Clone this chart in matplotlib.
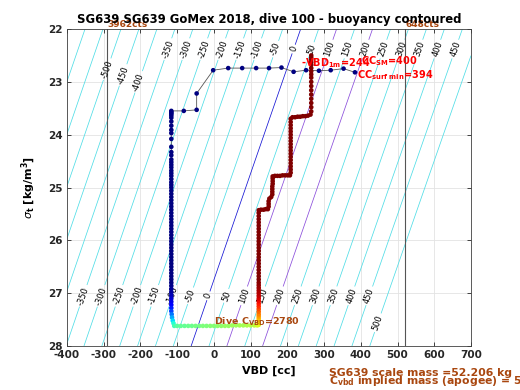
import numpy as np
import matplotlib.pyplot as plt

plt.rcParams['font.family'] = 'DejaVu Sans'
plt.rcParams['mathtext.fontset'] = 'dejavusans'
plt.rcParams['axes.unicode_minus'] = False

# glider numbers
mass_g = 52206.0       # scale mass [g]
vol0_cc = 50846.0      # displaced volume at VBD = 0 [cc]
vbd_min_cc = -290      # 3962 cts
vbd_max_cc = 521       # 648 cts
cc_sm = 400
cc_surf_min = 394
vbd_1m = 244
dive_c_vbd = 2780

# surface bleed (VBD cc, sigma_t, colour value 0..1 on jet)
surf_vbd = [384, 353, 318, 286, 251, 217, 184, 150, 115, 77, 39, -2, -47, -47, -82, -116]
surf_sig = [22.82, 22.75, 22.78, 22.79, 22.78, 22.81, 22.73, 22.74, 22.74, 22.74, 22.74, 22.78,
            23.22, 23.53, 23.55, 23.55]
surf_c = [0.0, 0.0, 0.0, 0.0, 0.0, 0.0, 0.0, 0.0, 0.0, 0.0, 0.0, 0.0, 0.0, 0.0, 0.0, 0.0]

# descent
desc_vbd = [-116, -116, -116, -116, -116, -116, -116, -116, -116, -116, -116, -116,
            -116, -116, -116, -116, -116, -116, -116, -116, -116, -116, -116, -116,
            -116, -116, -116, -116, -116, -116, -116, -116, -116, -116, -116, -116,
            -116, -116, -116, -116, -116, -116, -116, -116, -116, -116, -116, -116,
            -116, -116, -116, -116, -116, -116, -116, -116, -116, -116, -116, -116,
            -116, -116, -116, -115, -114, -112, -110, -108]
desc_sig = [23.57, 23.59, 23.61, 23.64, 23.68, 23.75, 23.83, 23.91, 23.97, 24.08, 24.23, 24.33,
            24.39, 24.47, 24.52, 24.57, 24.62, 24.68, 24.73, 24.78, 24.84, 24.90, 24.95, 25.00,
            25.06, 25.12, 25.18, 25.24, 25.30, 25.36, 25.42, 25.48, 25.54, 25.60, 25.66, 25.72,
            25.78, 25.84, 25.90, 25.96, 26.02, 26.08, 26.14, 26.20, 26.26, 26.32, 26.38, 26.44,
            26.50, 26.56, 26.62, 26.68, 26.74, 26.80, 26.86, 26.92, 26.98, 27.04, 27.10, 27.16,
            27.22, 27.28, 27.34, 27.40, 27.46, 27.52, 27.57, 27.62]
desc_c = [0.0, 0.0, 0.0, 0.0, 0.0, 0.0, 0.0, 0.0, 0.0, 0.0, 0.0, 0.0,
          0.0, 0.0, 0.0, 0.0, 0.0, 0.0, 0.0, 0.0, 0.0, 0.0, 0.0, 0.0,
          0.0, 0.0, 0.0, 0.0, 0.0, 0.0, 0.0, 0.0, 0.0, 0.0, 0.0, 0.0,
          0.0, 0.0, 0.0, 0.0, 0.0, 0.0, 0.0, 0.0, 0.0, 0.0, 0.0, 0.0,
          0.0, 0.0, 0.0, 0.0, 0.0, 0.0, 0.01, 0.02, 0.03, 0.05, 0.07, 0.09,
          0.12, 0.15, 0.19, 0.24, 0.29, 0.34, 0.39, 0.43]

# apogee pump
apo_vbd = [-100, -90, -80, -70, -60, -50, -40, -30, -20, -10, 0, 10,
           20, 30, 40, 50, 60, 70, 80, 90, 100, 110, 118]
apo_sig = [27.62, 27.62, 27.62, 27.62, 27.62, 27.62, 27.62, 27.62, 27.62, 27.62, 27.62, 27.62,
           27.62, 27.62, 27.62, 27.61, 27.61, 27.61, 27.61, 27.61, 27.61, 27.61, 27.61]
apo_c = [0.46, 0.47, 0.47, 0.48, 0.48, 0.49, 0.49, 0.50, 0.50, 0.51, 0.51, 0.52,
         0.52, 0.53, 0.53, 0.54, 0.54, 0.55, 0.55, 0.56, 0.57, 0.58, 0.60]

# climb
climb_vbd = [122, 122, 122, 122, 122, 122, 122, 122, 122, 122, 122, 122, 122, 122,
             122, 122, 122, 122, 122, 122, 122, 122, 122, 122, 122, 122, 122, 122,
             122, 122, 122, 122, 122, 122, 122, 122, 122, 122, 122, 122, 122,
             128, 135, 141, 147,
             149, 149, 149, 151, 156, 159, 159, 159, 159, 160, 160, 160, 160,
             166, 173, 180, 187, 194, 201, 207,
             209, 209, 209, 209, 209, 209, 209, 209, 209, 209, 209, 209, 209, 209, 209, 209,
             209, 209,
             214, 221, 228, 235, 242, 249, 256, 263,
             265, 265, 265, 265, 265, 265, 265, 265, 265, 265, 265, 265, 265, 265, 265, 265, 265]
climb_sig = [27.60, 27.56, 27.52, 27.48, 27.44, 27.40, 27.35, 27.30, 27.25, 27.20, 27.15, 27.10,
             27.05, 27.00,
             26.95, 26.90, 26.85, 26.80, 26.74, 26.68, 26.62, 26.56, 26.50, 26.44, 26.38, 26.32,
             26.26, 26.20,
             26.14, 26.08, 26.02, 25.96, 25.90, 25.84, 25.78, 25.72, 25.66, 25.60, 25.54, 25.48,
             25.43,
             25.42, 25.42, 25.41, 25.41,
             25.36, 25.31, 25.26, 25.21, 25.18, 25.13, 25.08, 25.03, 24.98, 24.93, 24.88, 24.83,
             24.79,
             24.78, 24.78, 24.78, 24.77, 24.77, 24.77, 24.77,
             24.72, 24.66, 24.60, 24.54, 24.48, 24.42, 24.36, 24.30, 24.24, 24.18, 24.12, 24.06,
             24.00, 23.94, 23.88, 23.82, 23.76, 23.70,
             23.67, 23.67, 23.66, 23.66, 23.65, 23.65, 23.64, 23.62,
             23.56, 23.48, 23.40, 23.32, 23.24, 23.16, 23.08, 23.00, 22.92, 22.86, 22.80, 22.74,
             22.68, 22.63, 22.58, 22.54, 22.50]
climb_c = [0.62, 0.65, 0.68, 0.71, 0.74, 0.77, 0.80, 0.83, 0.86, 0.88, 0.90, 0.92, 0.94, 0.95,
           0.96, 0.97, 0.98, 0.99, 1.0, 1.0, 1.0, 1.0, 1.0, 1.0, 1.0, 1.0, 1.0, 1.0,
           1.0, 1.0, 1.0, 1.0, 1.0, 1.0, 1.0, 1.0, 1.0, 1.0, 1.0, 1.0, 1.0,
           1.0, 1.0, 1.0, 1.0,
           1.0, 1.0, 1.0, 1.0, 1.0, 1.0, 1.0, 1.0, 1.0, 1.0, 1.0, 1.0, 1.0,
           1.0, 1.0, 1.0, 1.0, 1.0, 1.0, 1.0,
           1.0, 1.0, 1.0, 1.0, 1.0, 1.0, 1.0, 1.0, 1.0, 1.0, 1.0, 1.0, 1.0, 1.0, 1.0, 1.0,
           1.0, 1.0,
           1.0, 1.0, 1.0, 1.0, 1.0, 1.0, 1.0, 1.0,
           1.0, 1.0, 1.0, 1.0, 1.0, 1.0, 1.0, 1.0, 1.0, 1.0, 1.0, 1.0, 1.0, 1.0, 1.0, 1.0, 1.0]

levels = list(range(-650, 501, 50))
top_labels = list(range(-350, 451, 50))
bot_labels = list(range(-350, 451, 50))

brown = '#a9470f'
cyan = '#4fdde6'

fig = plt.figure(figsize=(5.2, 3.9), dpi=100)
ax = fig.add_axes([67 / 520, 44 / 390, 404 / 520, 317 / 390])
ax.set_xlim(-400, 700)
ax.set_ylim(28, 22)

# buoyancy field [g] over VBD and sigma_t
vv, ss = np.meshgrid(np.linspace(-400, 700, 221), np.linspace(22, 28, 121))
buoy = (1000 + ss) * (vol0_cc + vv) / 1000 - mass_g
line_cols = []
for lv in levels:
    if lv == 0:
        line_cols.append('#1414d4')
    elif lv in (100, 200):
        line_cols.append('#8a4ddb')
    else:
        line_cols.append(cyan)
cs = ax.contour(vv, ss, buoy, levels=levels, colors=line_cols, linewidths=0.55, zorder=1)


def vbd_on(lv, sig):
    return (mass_g + lv) * 1000 / (1000 + sig) - vol0_cc


pos = [(vbd_on(lv, 22.38), 22.38) for lv in top_labels]
pos += [(vbd_on(-400, 23.0), 23.0), (vbd_on(-450, 22.87), 22.87), (vbd_on(-500, 22.76), 22.76)]
pos += [(vbd_on(lv, 27.05), 27.05) for lv in bot_labels]
pos += [(vbd_on(500, 27.56), 27.56)]
labs = ax.clabel(cs, manual=pos, inline=True, inline_spacing=2, fontsize=6, fmt='%d', colors='k')
# keep labels reading up along the lines (y axis is reversed)
p1 = ax.transData.transform((vbd_on(0, 27.0), 27.0))
p2 = ax.transData.transform((vbd_on(0, 23.0), 23.0))
ang = np.degrees(np.arctan2(p2[1] - p1[1], p2[0] - p1[0]))
for t in labs:
    t.set_rotation(ang)

# VBD limits
for xv in (vbd_min_cc, vbd_max_cc):
    ax.axvline(xv, color='#555555', lw=0.8, zorder=2)
ax.text(vbd_min_cc, 22.0, '3962cts', color=brown, fontsize=6.5, ha='left', va='bottom',
        fontweight='bold')
ax.text(vbd_max_cc, 22.0, '648cts', color=brown, fontsize=6.5, ha='left', va='bottom',
        fontweight='bold')

all_vbd = surf_vbd + desc_vbd + apo_vbd + climb_vbd
all_sig = surf_sig + desc_sig + apo_sig + climb_sig
all_c = surf_c + desc_c + apo_c + climb_c
ax.plot(all_vbd, all_sig, color='#555555', lw=0.6, zorder=3)
ax.scatter(all_vbd, all_sig, c=all_c, cmap='jet', vmin=0, vmax=1, s=11, linewidths=0, zorder=4)

# annotations
ax.text(vbd_1m - 6, 22.64, r'-VBD$_{\mathbf{1m}}$=' + str(vbd_1m), color='red', fontsize=7,
        fontweight='bold', va='center', zorder=5)
ax.text(cc_sm, 22.6, r'CC$_{\mathbf{SM}}$=' + str(cc_sm), color='red', fontsize=7,
        fontweight='bold', va='center', zorder=5)
ax.text(cc_surf_min - 4, 22.88, r'CC$_{\mathbf{surf\ min}}$=' + str(cc_surf_min), color='red',
        fontsize=7, fontweight='bold', va='center', zorder=5)
ax.text(0, 27.55, r'Dive C$_{\mathbf{VBD}}$=' + str(dive_c_vbd), color=brown, fontsize=6.8,
        fontweight='bold', va='center', zorder=5)

ax.set_xticks(range(-400, 701, 100))
ax.set_yticks(range(22, 29))
ax.grid(True, color='#e3e3e3', lw=0.6)
ax.set_axisbelow(True)
ax.tick_params(direction='in', top=True, right=True, length=3, width=0.6, labelsize=7.5,
               colors='#262626', pad=3)
for lab in ax.get_xticklabels() + ax.get_yticklabels():
    lab.set_fontweight('bold')
for sp in ax.spines.values():
    sp.set_color('#404040')
    sp.set_linewidth(0.6)

ax.set_title('SG639 SG639 GoMex 2018, dive 100 - buoyancy contoured', fontsize=8.4,
             fontweight='bold', pad=4)
ax.set_xlabel('VBD [cc]', fontsize=8, fontweight='bold', labelpad=4)
ax.set_ylabel(r'$\sigma_{\mathbf{t}}$ [kg/m$^{\mathbf{3}}$]', fontsize=8, fontweight='bold',
              labelpad=7)

fig.text(329 / 520, 17 / 390, 'SG639 scale mass =52.206 kg', color=brown, fontsize=7.8,
         fontweight='bold', va='center')
fig.text(329 / 520, 9 / 390, r'C$_{\mathbf{vbd}}$ implied mass (apogee) = 52.302 kg',
         color=brown, fontsize=7.8, fontweight='bold', va='center')

fig.savefig('out.png', dpi=100)
